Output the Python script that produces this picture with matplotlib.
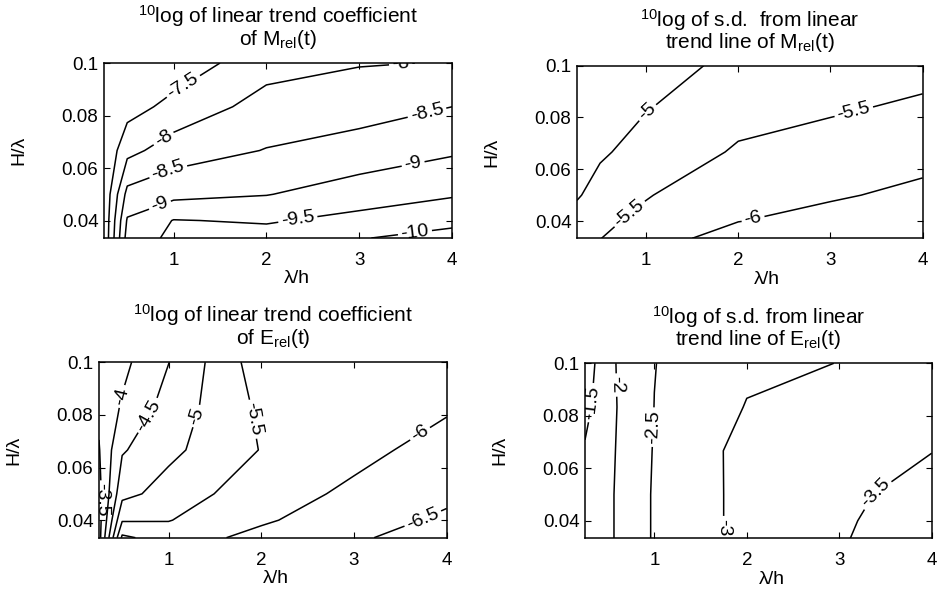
import numpy as np
import matplotlib
matplotlib.use("Agg")
from matplotlib import pyplot as plt
from matplotlib.ticker import FormatStrFormatter

# grid: wavelength over depth (x) and wave steepness (y)
lam_h = [0.25, 0.5, 1, 2, 3, 4]
h_lambda = [1 / 30, 1 / 25, 1 / 20, 1 / 15, 1 / 12, 1 / 10]

# 10log values, one row per H/lambda, one column per lambda/h
m_trend = [
    [-7.1, -9.2, -9.62, -9.7, -9.97, -10.2],
    [-7.1, -9.05, -9.52, -9.45, -9.65, -9.85],
    [-7.1, -8.65, -8.85, -8.98, -9.25, -9.45],
    [-7.05, -7.85, -8.25, -8.52, -8.7, -8.93],
    [-7.05, -7.3, -7.65, -8.2, -8.3, -8.5],
    [-7.0, -7.0, -7.2, -7.8, -7.97, -8.02],
]
m_sd = [
    [-5.35, -5.49, -5.8, -6.2, -6.35, -6.5],
    [-5.2, -5.4, -5.62, -5.99, -6.15, -6.3],
    [-4.95, -5.2, -5.47, -5.85, -5.95, -6.1],
    [-4.75, -4.93, -5.2, -5.55, -5.7, -5.85],
    [-4.6, -4.75, -4.98, -5.35, -5.45, -5.58],
    [-4.5, -4.6, -4.8, -5.12, -5.25, -5.35],
]
e_trend = [
    [-3.3, -6.1, -5.75, -6.15, -6.45, -6.68],
    [-3.3, -5.45, -5.48, -5.93, -6.3, -6.58],
    [-3.35, -4.85, -5.2, -5.81, -6.08, -6.4],
    [-3.47, -4.45, -4.88, -5.52, -5.885, -6.15],
    [-3.6, -4.05, -4.7, -5.6, -5.78, -5.95],
    [-3.7, -3.875, -4.49, -5.78, -5.75, -5.8],
]
e_sd = [
    [-1.6, -1.92, -2.55, -3.15, -3.47, -3.72],
    [-1.6, -1.92, -2.55, -3.15, -3.45, -3.7],
    [-1.58, -1.92, -2.55, -3.15, -3.4, -3.67],
    [-1.55, -1.9, -2.53, -3.16, -3.3, -3.49],
    [-1.35, -1.88, -2.505, -3.02, -3.2, -3.35],
    [-1.2, -1.9, -2.49, -2.92, -3.005, -3.2],
]

m_trend_levels = [-10, -9.5, -9, -8.5, -8, -7.5]
m_sd_levels = [-6, -5.5, -5, -4.5]
e_trend_levels = [-6.5, -6, -5.5, -5, -4.5, -4, -3.5]
e_sd_levels = [-3.5, -3, -2.5, -2, -1.5]

plt.rcParams["font.family"] = ["Liberation Sans", "DejaVu Sans"]
plt.rcParams["mathtext.fontset"] = "custom"
plt.rcParams["mathtext.rm"] = "Liberation Sans"
plt.rcParams["contour.negative_linestyle"] = "solid"

fig = plt.figure(figsize=(9.39, 5.94), dpi=100, facecolor="white")

SUP10 = r"$\mathregular{^{10}}$"
panels = [
    ([0.1108, 0.5993, 0.3706, 0.2946], m_trend, m_trend_levels,
     SUP10 + "log of linear trend coefficient", r"of M$\mathregular{_{rel}}$(t)", 0.555,
     [(1.16, 0.088), (0.89, 0.0713), (3.45, 0.098), (0.93, 0.0598), (3.74, 0.0796),
      (0.86, 0.0451), (3.58, 0.0617), (2.34, 0.040), (3.6, 0.0355)]),
    ([0.6145, 0.5988, 0.368, 0.2906], m_sd, m_sd_levels,
     SUP10 + "log of s.d.  from linear", r"trend line of M$\mathregular{_{rel}}$(t)", 0.548,
     [(0.99, 0.083), (0.79, 0.0441), (3.25, 0.0828), (2.16, 0.0409)]),
    ([0.1054, 0.0948, 0.3703, 0.2953], e_trend, e_trend_levels,
     SUP10 + "log of linear trend coefficient", r"of E$\mathregular{_{rel}}$(t)", 0.51,
     [(0.5, 0.087), (0.77, 0.08), (1.26, 0.08), (1.85, 0.078), (3.71, 0.073),
      (3.75, 0.040), (0.28, 0.0476)]),
    ([0.623, 0.0938, 0.3692, 0.2946], e_sd, e_sd_levels,
     SUP10 + "log of s.d. from linear", r"trend line of E$\mathregular{_{rel}}$(t)", 0.54,
     [(0.31, 0.085), (0.57, 0.0917), (0.97, 0.0757), (1.73, 0.0374), (3.37, 0.0515)]),
]

for rect, z, levels, title1, title2, xlabel_x, label_pos in panels:
    ax = fig.add_axes(rect)
    cs = ax.contour(lam_h, h_lambda, np.array(z), levels=levels, colors="k",
                    linewidths=1.1, linestyles="solid")
    ax.clabel(cs, fmt=lambda v: f"{v:g}", manual=label_pos, inline=True,
              inline_spacing=3, fontsize=14)

    ax.set_xlim(0.25, 4)
    ax.set_ylim(1 / 30, 0.1)
    ax.set_xticks([1, 2, 3, 4])
    ax.set_yticks([0.04, 0.06, 0.08, 0.1])
    ax.yaxis.set_major_formatter(FormatStrFormatter("%g"))
    ax.tick_params(direction="in", top=True, right=True, length=4, width=0.8,
                   labelsize=13.5)
    ax.tick_params(axis="x", pad=10)
    ax.tick_params(axis="y", pad=4)
    for spine in ax.spines.values():
        spine.set_linewidth(1.1)

    ax.set_xlabel("λ/h", fontsize=14, labelpad=1)
    ax.xaxis.label.set_x(xlabel_x)
    ax.set_ylabel("H/λ", fontsize=14, labelpad=25)

    # two-line heading, baselines placed above the frame
    ax.text(0.5, 1.228, title1, transform=ax.transAxes, ha="center", va="baseline",
            fontsize=15)
    ax.text(0.5, 1.105, title2, transform=ax.transAxes, ha="center", va="baseline",
            fontsize=15)

fig.savefig("out.png", dpi=100, facecolor=fig.get_facecolor())
